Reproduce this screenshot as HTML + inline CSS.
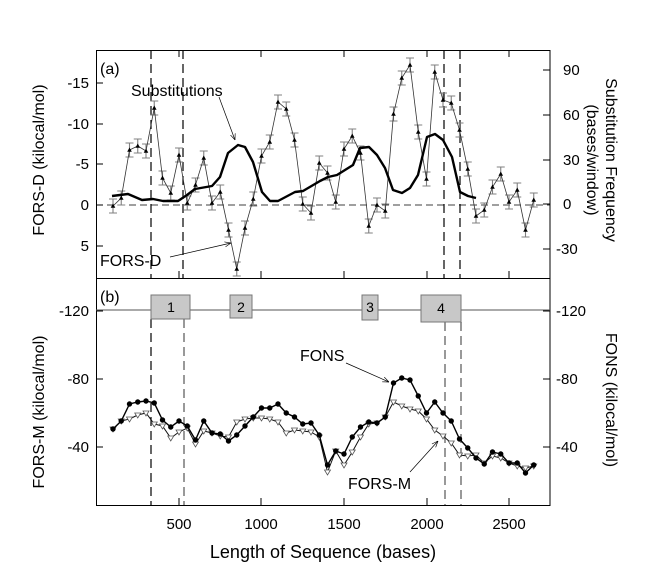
<!DOCTYPE html>
<html><head><meta charset="utf-8"><style>
html,body{margin:0;padding:0;background:#fff}
svg{display:block}
text{font-family:"Liberation Sans",Arial,sans-serif;fill:#000}
</style></head><body>
<svg width="646" height="575" viewBox="0 0 646 575" xmlns="http://www.w3.org/2000/svg">
<defs>
<marker id="ar" viewBox="0 0 10 10" refX="10" refY="5" markerWidth="9" markerHeight="9" orient="auto"><path d="M0,1 L10,5 L0,9" fill="none" stroke="#000" stroke-width="1"/></marker>
<marker id="tri" viewBox="-3 -3 6 6" refX="0" refY="0" markerWidth="6" markerHeight="6" markerUnits="userSpaceOnUse"><polygon points="-2.3,1.7 2.3,1.7 0,-2.5" fill="#000"/></marker>
<marker id="dot" viewBox="-3 -3 6 6" refX="0" refY="0" markerWidth="6" markerHeight="6" markerUnits="userSpaceOnUse"><circle r="2.7" fill="#000"/></marker>
<marker id="otri" viewBox="-4 -4 8 8" refX="0" refY="0" markerWidth="8" markerHeight="8" markerUnits="userSpaceOnUse"><polygon points="-3,-2 3,-2 0,3" fill="#fff" stroke="#555" stroke-width="0.8"/></marker>
</defs>
<rect x="96.5" y="50.5" width="453.5" height="455" fill="none" stroke="#000" stroke-width="1"/>
<line x1="96" y1="278.5" x2="550" y2="278.5" stroke="#000"/>
<line x1="96" y1="205" x2="550" y2="205" stroke="#000" stroke-dasharray="7,4" stroke-width="0.8"/>
<g stroke-width="1.2" stroke-dasharray="9,5" fill="none">
<line x1="151" y1="50" x2="151" y2="278" stroke="#000"/>
<line x1="183" y1="50" x2="183" y2="278" stroke="#000"/>
<line x1="444" y1="50" x2="444" y2="278" stroke="#000"/>
<line x1="460" y1="50" x2="460" y2="278" stroke="#000"/>
<line x1="151" y1="319" x2="151" y2="505" stroke="#000"/>
<line x1="184" y1="319" x2="184" y2="505" stroke="#999" stroke-width="2"/>
<line x1="445" y1="322" x2="445" y2="505" stroke="#999" stroke-width="2"/>
<line x1="461" y1="322" x2="461" y2="505" stroke="#999" stroke-width="2"/>
</g>
<g stroke="#000" stroke-width="1">
<line x1="96" y1="83" x2="103" y2="83"/><line x1="96" y1="124" x2="103" y2="124"/><line x1="96" y1="164" x2="103" y2="164"/><line x1="96" y1="205" x2="103" y2="205"/><line x1="96" y1="246" x2="103" y2="246"/>
<line x1="96" y1="311" x2="103" y2="311"/><line x1="96" y1="379" x2="103" y2="379"/><line x1="96" y1="447" x2="103" y2="447"/>
<line x1="543" y1="70" x2="550" y2="70"/><line x1="543" y1="115" x2="550" y2="115"/><line x1="543" y1="160" x2="550" y2="160"/><line x1="543" y1="204" x2="550" y2="204"/><line x1="543" y1="249" x2="550" y2="249"/>
<line x1="543" y1="311" x2="550" y2="311"/><line x1="543" y1="379" x2="550" y2="379"/><line x1="543" y1="447" x2="550" y2="447"/>
<line x1="179" y1="50" x2="179" y2="57"/><line x1="261" y1="50" x2="261" y2="57"/><line x1="344" y1="50" x2="344" y2="57"/><line x1="427" y1="50" x2="427" y2="57"/><line x1="509" y1="50" x2="509" y2="57"/>
<line x1="179" y1="271" x2="179" y2="278"/><line x1="261" y1="271" x2="261" y2="278"/><line x1="344" y1="271" x2="344" y2="278"/><line x1="427" y1="271" x2="427" y2="278"/><line x1="509" y1="271" x2="509" y2="278"/>
<line x1="179" y1="498" x2="179" y2="505"/><line x1="261" y1="498" x2="261" y2="505"/><line x1="344" y1="498" x2="344" y2="505"/><line x1="427" y1="498" x2="427" y2="505"/><line x1="509" y1="498" x2="509" y2="505"/>
</g>
<g font-size="15" text-anchor="end">
<text x="89" y="88">-15</text><text x="89" y="129">-10</text><text x="89" y="169">-5</text><text x="89" y="210">0</text><text x="89" y="251">5</text>
<text x="89" y="316">-120</text><text x="89" y="384">-80</text><text x="89" y="452">-40</text>
</g>
<g font-size="15" text-anchor="start">
<text x="563" y="75">90</text><text x="563" y="120">60</text><text x="563" y="165">30</text><text x="563" y="209">0</text><text x="556" y="254">-30</text>
<text x="556" y="316">-120</text><text x="556" y="384">-80</text><text x="556" y="452">-40</text>
</g>
<g font-size="15" text-anchor="middle">
<text x="179" y="529">500</text><text x="261" y="529">1000</text><text x="344" y="529">1500</text><text x="427" y="529">2000</text><text x="509" y="529">2500</text>
</g>
<text x="323" y="558" font-size="18" text-anchor="middle">Length of Sequence (bases)</text>
<text transform="translate(44,160) rotate(-90)" font-size="16" text-anchor="middle">FORS-D (kilocal/mol)</text>
<text transform="translate(44,412) rotate(-90)" font-size="16" text-anchor="middle">FORS-M (kilocal/mol)</text>
<text transform="translate(606,160) rotate(90)" font-size="16" text-anchor="middle">Substitution Frequency</text>
<text transform="translate(587,160) rotate(90)" font-size="16" text-anchor="middle">(bases/window)</text>
<text transform="translate(606,400) rotate(90)" font-size="16" text-anchor="middle">FONS (kilocal/mol)</text>
<text x="100" y="74" font-size="16">(a)</text>
<text x="100" y="302" font-size="16">(b)</text>
<line x1="96" y1="310" x2="550" y2="310" stroke="#555" stroke-width="1"/>
<g fill="#c8c8c8" stroke="#777" stroke-width="1">
<rect x="151" y="295" width="39" height="24"/>
<rect x="230" y="295" width="22" height="23"/>
<rect x="362" y="295" width="16" height="25"/>
<rect x="421" y="295" width="40" height="27"/>
</g>
<g font-size="14" text-anchor="middle">
<text x="171" y="312">1</text><text x="241" y="312">2</text><text x="370" y="312">3</text><text x="441" y="313">4</text>
</g>
<!-- error bars -->
<path fill="none" stroke="#808080" stroke-width="1.1" d="M113,199v14m-4,-14h8m-8,14h8 M121.25,191v14m-4,-14h8m-8,14h8 M129.5,143v14m-4,-14h8m-8,14h8 M137.75,139v14m-4,-14h8m-8,14h8 M146,144v14m-4,-14h8m-8,14h8 M154.25,101v14m-4,-14h8m-8,14h8 M162.5,171v14m-4,-14h8m-8,14h8 M170.75,186v14m-4,-14h8m-8,14h8 M179,148v14m-4,-14h8m-8,14h8 M187.25,196v14m-4,-14h8m-8,14h8 M195.5,178v14m-4,-14h8m-8,14h8 M203.75,151v14m-4,-14h8m-8,14h8 M212,196v14m-4,-14h8m-8,14h8 M220.25,185v14m-4,-14h8m-8,14h8 M228.5,223v14m-4,-14h8m-8,14h8 M236.75,262v14m-4,-14h8m-8,14h8 M245,221v14m-4,-14h8m-8,14h8 M253.25,192v14m-4,-14h8m-8,14h8 M261.5,149v14m-4,-14h8m-8,14h8 M269.75,135v14m-4,-14h8m-8,14h8 M278,95v14m-4,-14h8m-8,14h8 M286.25,102v14m-4,-14h8m-8,14h8 M294.5,133v14m-4,-14h8m-8,14h8 M302.75,197v14m-4,-14h8m-8,14h8 M311,206v14m-4,-14h8m-8,14h8 M319.25,156v14m-4,-14h8m-8,14h8 M327.5,166v14m-4,-14h8m-8,14h8 M335.75,195v14m-4,-14h8m-8,14h8 M344,142v14m-4,-14h8m-8,14h8 M352.25,129v14m-4,-14h8m-8,14h8 M360.5,146v14m-4,-14h8m-8,14h8 M368.75,219v14m-4,-14h8m-8,14h8 M377,198v14m-4,-14h8m-8,14h8 M385.25,204v14m-4,-14h8m-8,14h8 M393.5,107v14m-4,-14h8m-8,14h8 M401.75,71v14m-4,-14h8m-8,14h8 M410,58v14m-4,-14h8m-8,14h8 M418.25,125v14m-4,-14h8m-8,14h8 M426.5,172v14m-4,-14h8m-8,14h8 M434.75,65v14m-4,-14h8m-8,14h8 M443,93v14m-4,-14h8m-8,14h8 M451.25,96v14m-4,-14h8m-8,14h8 M459.5,123v14m-4,-14h8m-8,14h8 M467.75,162v14m-4,-14h8m-8,14h8 M476,209v14m-4,-14h8m-8,14h8 M484.25,203v14m-4,-14h8m-8,14h8 M492.5,180v14m-4,-14h8m-8,14h8 M500.75,167v14m-4,-14h8m-8,14h8 M509,195v14m-4,-14h8m-8,14h8 M517.25,183v14m-4,-14h8m-8,14h8 M525.5,223v14m-4,-14h8m-8,14h8 M533.75,193v14m-4,-14h8m-8,14h8"/>
<!-- FORS-D -->
<polyline fill="none" stroke="#333" stroke-width="0.8" marker-start="url(#tri)" marker-mid="url(#tri)" marker-end="url(#tri)" points="113,206 121.25,198 129.5,150 137.75,146 146,151 154.25,108 162.5,178 170.75,193 179,155 187.25,203 195.5,185 203.75,158 212,203 220.25,192 228.5,230 236.75,269 245,228 253.25,199 261.5,156 269.75,142 278,102 286.25,109 294.5,140 302.75,204 311,213 319.25,163 327.5,173 335.75,202 344,149 352.25,136 360.5,153 368.75,226 377,205 385.25,211 393.5,114 401.75,78 410,65 418.25,132 426.5,179 434.75,72 443,100 451.25,103 459.5,130 467.75,169 476,216 484.25,210 492.5,187 500.75,174 509,202 517.25,190 525.5,230 533.75,200"/>
<!-- substitutions -->
<polyline fill="none" stroke="#000" stroke-width="2.4" stroke-linejoin="round" points="112,196 128,194 142,200 153,199 163,201 178,201 187,195 195,189 212,186 220,177 228,153 238,145 245,147 253,162 262,192 270,201 278,201 295,192 303,191 320,181 328,177 337,175 345,170 353,165 360,148 369,147 377,155 385,168 393,190 402,193 410,188 418,175 427,137 435,134 443,140 452,157 460,192 468,196 476,198"/>
<!-- FORS-M -->
<polyline fill="none" stroke="#111" stroke-width="1" marker-start="url(#otri)" marker-mid="url(#otri)" marker-end="url(#otri)" points="113,429 121.25,421 129.5,419 137.75,415 146,413 154.25,424 162.5,426 170.75,438 179,432 187.25,428 195.5,444 203.75,431 212,433 220.25,436 228.5,437 236.75,422 245,419 253.25,418 261.5,418 269.75,419 278,422 286.25,433 294.5,430 302.75,431 311,432 319.25,437 327.5,472 335.75,451 344,465 352.25,452 360.5,437 368.75,424 377,423 385.25,417 393.5,402 401.75,406 410,409 418.25,411 426.5,419 434.75,430 443,436 451.25,443 459.5,455 467.75,456 476,455 484.25,463 492.5,456 500.75,458 509,463 517.25,466 525.5,468 533.75,466"/>
<!-- FONS -->
<polyline fill="none" stroke="#000" stroke-width="1.4" marker-start="url(#dot)" marker-mid="url(#dot)" marker-end="url(#dot)" points="113,429 121.25,421 129.5,404 137.75,402 146,401 154.25,403 162.5,420 170.75,427 179,421 187.25,426 195.5,440 203.75,421 212,433 220.25,434 228.5,441 236.75,435 245,426 253.25,417 261.5,408 269.75,408 278,404 286.25,413 294.5,417 302.75,424 311,423 319.25,435 327.5,465 335.75,451 344,454 352.25,437 360.5,427 368.75,422 377,423 385.25,417 393.5,383 401.75,378 410,380 418.25,396 426.5,413 434.75,402 443,413 451.25,421 459.5,439 467.75,448 476,458 484.25,464 492.5,452 500.75,454 509,463 517.25,463 525.5,473 533.75,465"/>
<text x="131" y="96" font-size="16">Substitutions</text>
<line x1="219" y1="97" x2="235" y2="140" stroke="#000" stroke-width="0.7" marker-end="url(#ar)"/>
<text x="100" y="266" font-size="16">FORS-D</text>
<line x1="170" y1="257" x2="231" y2="243" stroke="#000" stroke-width="0.7" marker-end="url(#ar)"/>
<text x="300" y="361" font-size="16">FONS</text>
<line x1="346" y1="363" x2="389" y2="382" stroke="#000" stroke-width="0.7" marker-end="url(#ar)"/>
<text x="348" y="489" font-size="16">FORS-M</text>
<line x1="410" y1="472" x2="438" y2="441" stroke="#000" stroke-width="0.7" marker-end="url(#ar)"/>
</svg>
</body></html>
